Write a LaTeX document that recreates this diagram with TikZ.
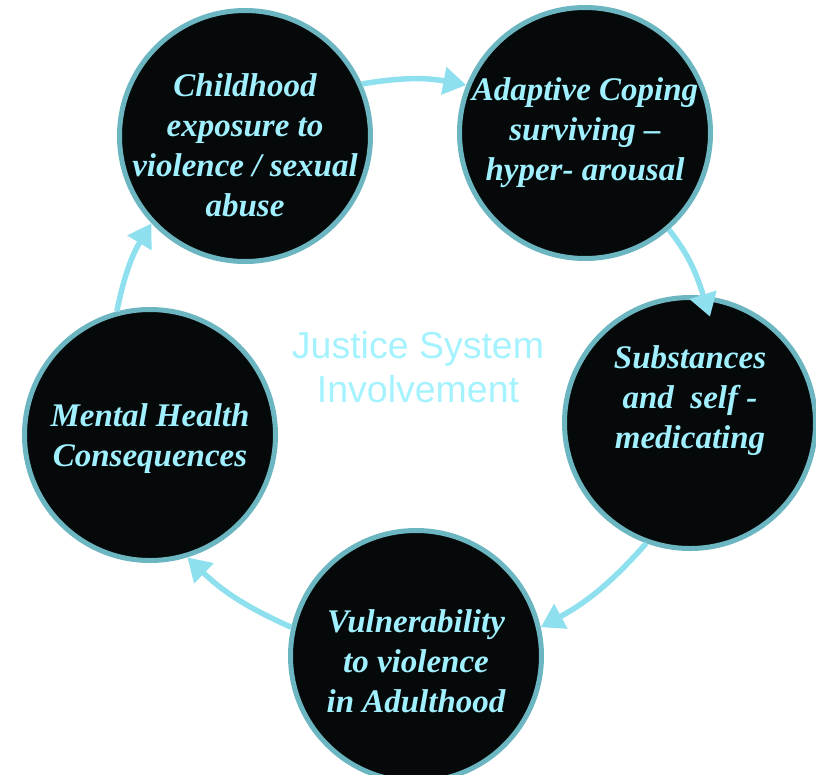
\documentclass[tikz,border=0pt]{standalone}
\usepackage{fontspec}
\setmainfont{Liberation Serif}
\setsansfont{Liberation Sans}
\usepackage{tikz}
\usetikzlibrary{arrows.meta}
\definecolor{ringteal}{RGB}{108,182,194}
\definecolor{darkfill}{RGB}{5,9,9}
\definecolor{palecyan}{RGB}{160,240,255}
\definecolor{flowcyan}{RGB}{142,224,238}
\definecolor{centercyan}{RGB}{165,242,255}

\begin{document}
\begin{tikzpicture}[
    x=1pt, y=1pt,
    stage/.style={circle, draw=ringteal, line width=5pt, fill=darkfill, minimum size=251pt, inner sep=0pt},
    stagetext/.style={align=center, text=palecyan, inner sep=0pt, font=\fontsize{33}{40}\selectfont\bfseries\itshape},
    flow/.style={draw=flowcyan, line width=5.5pt, -{Triangle[length=23pt, width=27pt]}}
]
    \useasboundingbox (0,0) rectangle (816,-774);

    \node[stage, label={[stagetext, yshift=-9pt]center:Childhood\\exposure to\\violence / sexual\\abuse}] (child) at (245,-136) {};
    \node[stage, label={[stagetext]center:Adaptive Coping\\surviving --\\hyper- arousal}] (cope) at (585,-133) {};
    \node[stage, label={[stagetext, yshift=22pt]center:Substances\\and~~self -\\medicating}] (subst) at (690,-423) {};
    \node[stage, label={[stagetext, yshift=-5pt]center:Vulnerability\\to violence\\in Adulthood}] (adult) at (416,-656) {};
    \node[stage, label={[stagetext, yshift=-4pt]center:Mental Health\\Consequences}] (mental) at (150,-435) {};

    \node[align=center, text=centercyan, font=\sffamily\fontsize{37.5}{44}\selectfont] (jsi) at (418,-367) {Justice System\\Involvement};

    \draw[flow] (child.24) to[bend left=10] (cope.158);
    \draw[flow, shorten >=-22pt] (cope.-49) to[bend left=10] (subst.84);
    \draw[flow] (subst.250) to[bend left=10] (adult.13);
    \draw[flow] (adult.167) to[bend left=10] (mental.287);
    \draw[flow] (mental.105) to[bend left=10] (child.223);
\end{tikzpicture}
\end{document}
